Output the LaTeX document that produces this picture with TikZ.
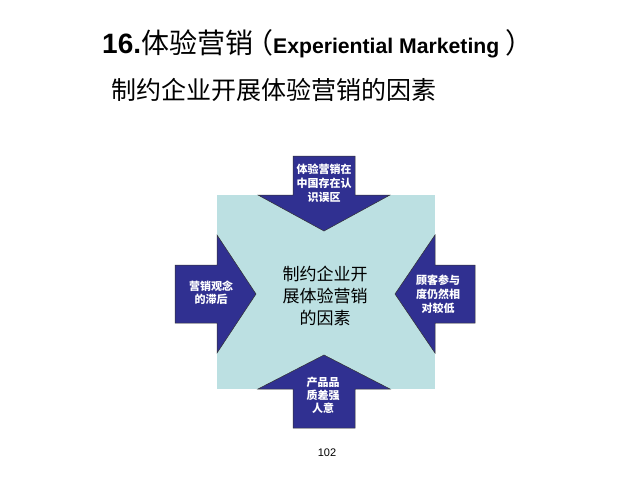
\documentclass[tikz,border=0pt]{standalone}
\usepackage{fontspec}
\setmainfont{Liberation Sans}
\newfontfamily\cjk{Noto Sans CJK SC}
\definecolor{darkblue}{RGB}{48,48,145}
\definecolor{lightcyan}{RGB}{188,224,226}
\begin{document}
\begin{tikzpicture}[x=1pt,y=-1pt,
  arrowshape/.style={fill=darkblue,draw=black!80,line width=0.5pt,line join=miter},
  arrowtext/.style={text=white,font=\cjk\bfseries\fontsize{11}{14}\selectfont,align=center,inner sep=0pt}]
\useasboundingbox[fill=white] (0,0) rectangle (640,480);
% square
\fill[lightcyan] (217,195) rectangle (435,389);
% top arrow
\draw[arrowshape] (293,156) -- (355,156) -- (355,195) -- (390,195) -- (324,231) -- (258,195) -- (293,195) -- cycle;
% left arrow
\draw[arrowshape] (175,265) -- (217,265) -- (217,235) -- (256,294) -- (217,353) -- (217,323) -- (175,323) -- cycle;
% right arrow
\draw[arrowshape] (475,265) -- (435,265) -- (435,235) -- (395,294) -- (435,353) -- (435,323) -- (475,323) -- cycle;
% bottom arrow
\draw[arrowshape] (293,428) -- (355,428) -- (355,389) -- (390,389) -- (324,355) -- (258,389) -- (293,389) -- cycle;
% texts
\node[arrowtext] (top) at (324,183) {体验营销在\\中国存在认\\识误区};
\node[arrowtext,font=\cjk\bfseries\fontsize{11}{13}\selectfont] (left) at (211,293) {营销观念\\的滞后};
\node[arrowtext] (right) at (438,294) {顾客参与\\度仍然相\\对较低};
\node[arrowtext,font=\cjk\bfseries\fontsize{11}{13}\selectfont] (bottom) at (323,395) {产品品\\质差强\\人意};
\node[align=center,inner sep=0pt,font=\cjk\fontsize{17}{22}\selectfont] (center) at (325,296) {制约企业开\\展体验营销\\的因素};
% title
\node[anchor=base west,inner sep=0pt] (title) at (102,53) {\fontsize{28}{30}\selectfont\bfseries 16.{\cjk\mdseries 体验营销}{\cjk\mdseries\hspace{-8pt}（}{\fontsize{21.2}{24}\selectfont Experiential Marketing }{\cjk\mdseries ）}};
\node[anchor=base west,inner sep=0pt,font=\cjk\fontsize{25}{28}\selectfont] (subtitle) at (111,99) {制约企业开展体验营销的因素};
\node[inner sep=0pt,font=\fontsize{11}{13}\selectfont] (page) at (327,453) {102};
\end{tikzpicture}
\end{document}
